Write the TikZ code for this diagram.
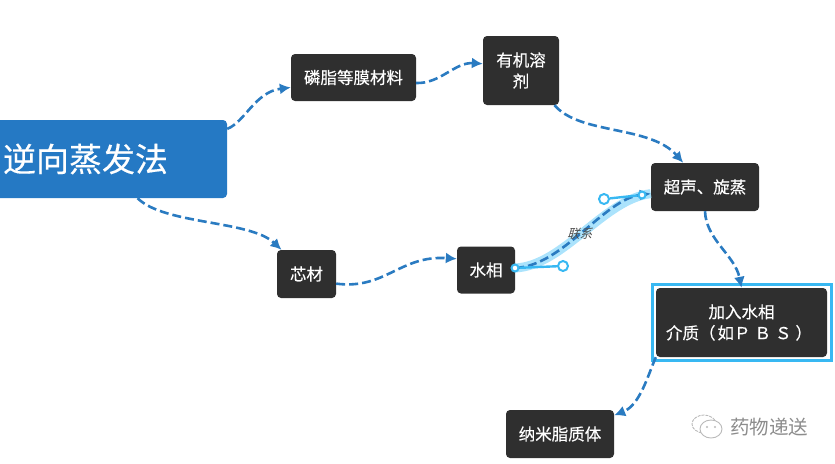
\documentclass[tikz,border=0pt]{standalone}
\usepackage{fontspec}
\usepackage{tikz}
\usetikzlibrary{arrows.meta}
\newfontfamily\cjk[RawFeature={embolden=0.35}]{Noto Sans CJK SC}
\newfontfamily\cjklight{Noto Sans CJK SC}
\definecolor{linkblue}{HTML}{2A7BC1}
\definecolor{mainblue}{HTML}{2579C4}
\definecolor{boxdark}{HTML}{2F2F2F}
\definecolor{selcyan}{HTML}{38B8F2}
\definecolor{halo}{HTML}{ABE3FC}
\definecolor{markgray}{HTML}{8C8C8C}
\tikzset{
	box/.style={fill=boxdark, rounded corners=4pt, text=white, inner sep=0pt, align=center,
		font=\cjk\fontsize{16.5}{21}\selectfont},
	link/.style={linkblue, line width=2.6pt, dash pattern=on 9pt off 4pt,
		-{Latex[length=11pt,width=11pt]}},
	handle/.style={circle, draw=selcyan, fill=white, line width=2pt, inner sep=0pt, minimum size=#1},
	handleline/.style={selcyan, line width=2.4pt}
}
\begin{document}
\begin{tikzpicture}[x=1pt,y=-1pt]
	\useasboundingbox (0,0) rectangle (835,463);
	\path (85.5,159) node(main)[fill=mainblue, rounded corners=4pt, text=white, inner sep=0pt,
		minimum width=283pt, minimum height=78pt, font=\cjk\fontsize{33}{33}\selectfont]{逆向蒸发法}
	(353.5,77.5) node(lipid)[box, minimum width=125pt, minimum height=47pt]{磷脂等膜材料}
	(521,70.5) node(solvent)[box, minimum width=76pt, minimum height=69pt]{有机溶\\剂}
	(705,187) node(sonic)[box, minimum width=108pt, minimum height=48pt]{超声、旋蒸}
	(306.5,274) node(core)[box, minimum width=59pt, minimum height=48pt]{芯材}
	(486,270) node(water)[box, minimum width=58pt, minimum height=47pt]{水相}
	(560,434) node(nano)[box, minimum width=108pt, minimum height=48pt]{纳米脂质体};
	% selected topic with its frame
	\path (741.5,322) node(frame)[draw=selcyan, line width=3pt, minimum width=179pt, minimum height=76pt]{};
	\path (741.5,322.5) node(medium)[box, minimum width=171pt, minimum height=69pt]{加入水相\\介质（\kern2pt 如Ｐ\kern4pt Ｂ\kern4pt Ｓ\kern4pt ）\kern5pt};
	% relation band first, it lies under the dashes
	\draw [halo, line width=9pt] (water.4) .. controls (563,266) and (604,199) .. (sonic.187);
	\draw [link] (main.12) .. controls (245,122) and (255,92) .. (lipid.189);
	\draw [link] (lipid.-5) .. controls (440,84) and (455,62) .. (solvent.170);
	\draw [link] (solvent.-46) .. controls (580,135) and (650,125) .. (sonic.132);
	\draw [link] (sonic.south) .. controls (706,240) and (735,255) .. (medium.north);
	\draw [link] (medium.south west) .. controls (648,375) and (640,405) .. (nano.19);
	\draw [link] (main.-37) .. controls (165,225) and (250,220) .. (core.136);
	\draw [link] (core.-18) .. controls (385,290) and (400,255) .. (water.159);
	\draw [link] (water.4) .. controls (563,266) and (604,199) .. (sonic.187);
	% handles of the relation
	\path (515,268) node(hstart)[handle=7pt]{}
	(642,195) node(hend)[handle=7pt]{}
	(563,266) node(hctrla)[handle=10pt]{}
	(604,199) node(hctrlb)[handle=10pt]{};
	\draw [handleline] (hstart)--(hctrla);
	\draw [handleline] (hend)--(hctrlb);
	\path (581,234) node(rel)[xslant=0.3, text=black!70, inner sep=0pt, font=\cjklight\fontsize{12.5}{13}\selectfont]{联系};
	% watermark
	\draw [markgray!60, line width=0.9pt, dash pattern=on 3pt off 1pt] (704,424) ellipse (12pt and 9pt);
	\draw [markgray!60, line width=0.9pt, fill=white] (711,429) ellipse (11pt and 9pt);
	\fill [markgray!60] (707,427) circle (1.1pt) (715,427) circle (1.1pt);
	\path (769,427) node(mark)[text=markgray, inner sep=0pt, font=\cjklight\fontsize{19.5}{20}\selectfont]{药物递送};
\end{tikzpicture}
\end{document}
